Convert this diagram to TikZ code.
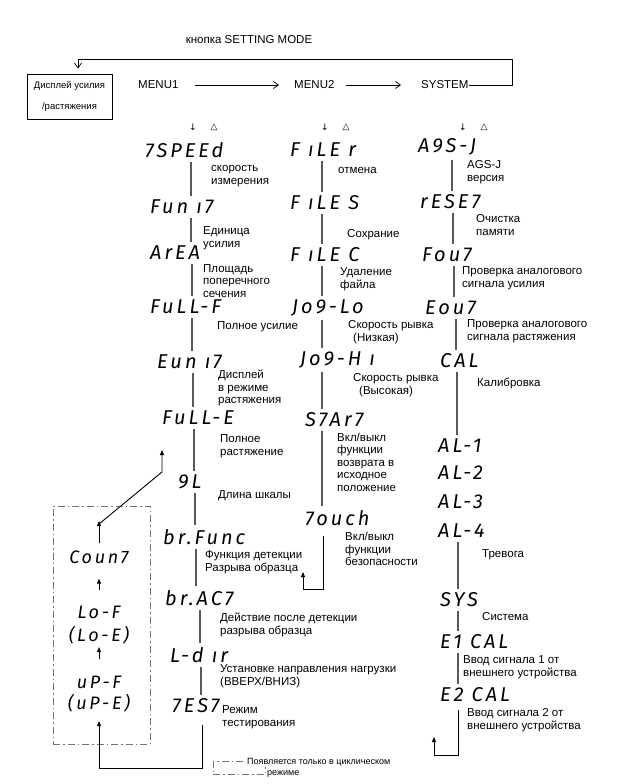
\documentclass[tikz,border=0pt]{standalone}
\usepackage{fontspec}
\setmainfont{Liberation Sans}
\newfontfamily\segfont{Fira Sans}[LetterSpace=15]
\newfontfamily\symfont{DejaVu Sans}
\usetikzlibrary{arrows.meta,positioning}
\tikzset{
  seg/.style={anchor=west,inner sep=0pt,font=\segfont\itshape\fontsize{20}{20}\selectfont},
  cyc/.style={anchor=center,inner sep=0pt,font=\segfont\itshape\fontsize{18}{18}\selectfont},
  note/.style={anchor=west,inner sep=0pt,align=left,font=\fontsize{11.5}{12.5}\selectfont},
  menu/.style={inner sep=0pt,font=\fontsize{11.5}{12}\selectfont},
  hint/.style={inner sep=0pt,font=\symfont\fontsize{9}{9}\selectfont},
  vline/.style={line width=1.3pt,black!65,shorten >=4pt,shorten <=4pt},
  flow/.style={line width=0.9pt,-{Triangle[length=5pt,width=4pt]}},
  thinarrow/.style={line width=0.7pt,-{Straight Barb[length=5pt,width=7pt]}},
  dashdot/.style={black!55,line width=0.8pt,dash pattern=on 7pt off 3pt on 1.5pt off 3pt}
}
\begin{document}
\begin{tikzpicture}[x=1pt,y=-1pt]
\useasboundingbox (0,0) rectangle (637,784);

% top row
\node[menu] (setkey) at (249,40) {кнопка SETTING MODE};
\node[menu,anchor=west] (menuone) at (138,85) {MENU1};
\node[menu,anchor=west] (menutwo) at (294,85) {MENU2};
\node[menu,anchor=west] (system) at (421,85) {SYSTEM};
\node[draw,line width=0.9pt,minimum width=85pt,minimum height=45pt,inner sep=0pt,align=center,
      font=\fontsize{9.5}{21}\selectfont] (disp) at (69.5,96.5) {Дисплей усилия\\/растяжения};
\draw[thinarrow] ([xshift=16pt]menuone.east) -- ([xshift=-15pt]menutwo.west);
\draw[thinarrow] ([xshift=11pt]menutwo.east) -- ([xshift=-20pt]system.west);
\coordinate (loopr) at (512,59);
\coordinate (loopl) at (78,59);
\draw[thinarrow] (system.east) -- (system.east -| loopr) -- (loopr) -- (loopl) -- ([yshift=5pt]disp.north -| loopl);

\foreach \nm/\x in {one/193,two/325,three/463} {
  \node[hint] (dn\nm) at (\x,127) {↓};
  \node[hint] (up\nm) at (\x+21,127) {△};
}

% MENU1
\node[seg] (speed) at (145,150) {7SPEEd};
\node[seg] (funit) at (150,207) {Fun ı7};
\node[seg] (area) at (150,253) {ArEA};
\node[seg] (fullf) at (150,307) {FuLL-F};
\node[seg] (eunit) at (157,362) {Eun ı7};
\node[seg] (fulle) at (162,418) {FuLL-E};
\node[seg] (gaugel) at (178,482) {9L};
\node[seg] (brfunc) at (163,537) {br.Func};
\node[seg] (bract) at (165,598) {br.AC7};
\node[seg] (ldir) at (170,655) {L-d ır};
\node[seg] (test) at (172,706) {7ES7};

\node[note] (speedtxt) at (211,176) {скорость\\измерения};
\node[note] (funittxt) at (203,238) {Единица\\усилия};
\node[note] (areatxt) at (203,281) {Площадь\\поперечного\\сечения};
\node[note] (fullftxt) at (217,327) {Полное усилие};
\node[note] (eunittxt) at (218,388) {Дисплей\\в режиме\\растяжения};
\node[note] (fulletxt) at (220,446) {Полное\\растяжение};
\node[note] (gaugetxt) at (218,496) {Длина шкалы};
\node[note] (brfunctxt) at (205,562) {Функция детекции\\Разрыва образца};
\node[note] (bracttxt) at (220,625) {Действие после детекции\\разрыва образца};
\node[note] (ldirtxt) at (220,676) {Установке направления нагрузки\\(ВВЕРХ/ВНИЗ)};
\node[note] (testtxt) at (222,717) {Режим\\тестирования};

% MENU2
\node[seg] (filer) at (290,150) {F ıLE r};
\node[seg] (files) at (290,203) {F ıLE S};
\node[seg] (filec) at (290,255) {F ıLE C};
\node[seg] (joglo) at (292,308) {Jo9-Lo};
\node[seg] (joghi) at (300,360) {Jo9-H ı};
\node[seg] (start) at (305,420) {S7Ar7};
\node[seg] (touch) at (305,518) {7ouch};

\node[note] (filertxt) at (338,170) {отмена};
\node[note] (filestxt) at (347,235) {Сохрание};
\node[note] (filectxt) at (340,279) {Удаление\\файла};
\node[note] (joglotxt) at (348,332) {Скорость рывка\\\hspace*{5pt}(Низкая)};
\node[note] (joghitxt) at (353,385) {Скорость рывка\\\hspace*{6pt}(Высокая)};
\node[note] (starttxt) at (337,462) {Вкл/выкл\\функции\\возврата в\\исходное\\положение};
\node[note] (touchtxt) at (345,549) {Вкл/выкл\\функции\\безопасности};

% SYSTEM
\node[seg] (ags) at (418,147) {A9S-J};
\node[seg] (reset) at (420,202) {rESE7};
\node[seg] (fout) at (422,255) {Fou7};
\node[seg] (eout) at (425,308) {Eou7};
\node[seg] (cal) at (440,361) {CAL};
\foreach \n/\y in {1/446,2/473,3/502,4/531}
  \node[seg] (al\n) at (438,\y) {AL-\n};
\node[seg] (sys) at (440,600) {SYS};
\node[seg] (ecalone) at (440,642) {E1 CAL};
\node[seg] (ecaltwo) at (440,695) {E2 CAL};

\node[note] (agstxt) at (467,172) {AGS-J\\версия};
\node[note] (resettxt) at (476,225) {Очистка\\памяти};
\node[note] (fouttxt) at (462,278) {Проверка аналогового\\сигнала усилия};
\node[note] (eouttxt) at (467,331) {Проверка аналогового\\сигнала растяжения};
\node[note] (caltxt) at (477,383) {Калибровка};
\node[note] (altxt) at (482,555) {Тревога};
\node[note] (systxt) at (482,617) {Система};
\node[note] (ecalonetxt) at (463,667) {Ввод сигнала 1 от\\внешнего устройства};
\node[note] (ecaltwotxt) at (467,720) {Ввод сигнала 2 от\\внешнего устройства};

% column lines
\foreach \a/\b/\x in {speed/funit/191,funit/area/191,area/fullf/192,fullf/eunit/192,eunit/fulle/193,
    fulle/gaugel/194,gaugel/brfunc/195,brfunc/bract/196,bract/ldir/200,ldir/test/201,
    filer/files/322,files/filec/322,filec/joglo/322,joglo/joghi/322,joghi/start/322,start/touch/322,
    ags/reset/452,reset/fout/453,fout/eout/454,eout/cal/456,cal/al1/457,al4/sys/458,sys/ecalone/458,ecalone/ecaltwo/458} {
  \coordinate (cx) at (\x,0);
  \draw[vline] (\a.south -| cx) -- (\b.north -| cx);
}

% return loops
\coordinate (loopa) at (202,768);
\coordinate (loopb) at (323,589);
\coordinate (tipb) at (303,572);
\coordinate (loopc) at (458,755);
\coordinate (tipc) at (434,737);

% cycle mode box
\node[draw,dashdot,minimum width=97pt,minimum height=238pt,inner sep=0pt] (cycbox) at (101.5,625) {};
\node[cyc] (count) at (99,557) {Coun7};
\node[cyc] (lof) at (99,612) {Lo-F};
\node[cyc] (loe) at (99,635) {(Lo-E)};
\node[cyc] (upf) at (99,682) {uP-F};
\node[cyc] (upe) at (99,703) {(uP-E)};
\draw[flow,shorten <=15pt,shorten >=15pt] (lof) -- (count);
\draw[flow,shorten <=16pt,shorten >=3pt] (upf) -- (loe);
\coordinate (diaga) at (99,524);
\coordinate (diagb) at (162,472);
\coordinate (fetip) at (162,450);
\draw[flow,shorten <=7pt,shorten >=-3pt] (count) -- (count |- diaga);
\draw[flow] (diaga) -- (diagb) -- (fetip);

\draw[flow] ([yshift=-12pt]test.south -| loopa) -- (loopa) -| ([yshift=-9pt]upe.south);
\draw[flow] ([yshift=-10pt]touch.south -| loopb) -- (loopb) -| (tipb);
\draw[flow] ([yshift=-8pt]ecaltwo.south -| loopc) -- (loopc) -| (tipc);

% legend
\node[draw,dashdot,minimum width=52pt,minimum height=13pt,inner sep=0pt] (legbox) at (239,768) {};
\node[anchor=west,fill=white,inner sep=1pt,font=\fontsize{9}{10}\selectfont] (legone) at (246,762) {Появляется только в циклическом};
\node[anchor=west,inner sep=1pt,font=\fontsize{9}{10}\selectfont] (legtwo) at (266,774) {режиме};
\end{tikzpicture}
\end{document}
